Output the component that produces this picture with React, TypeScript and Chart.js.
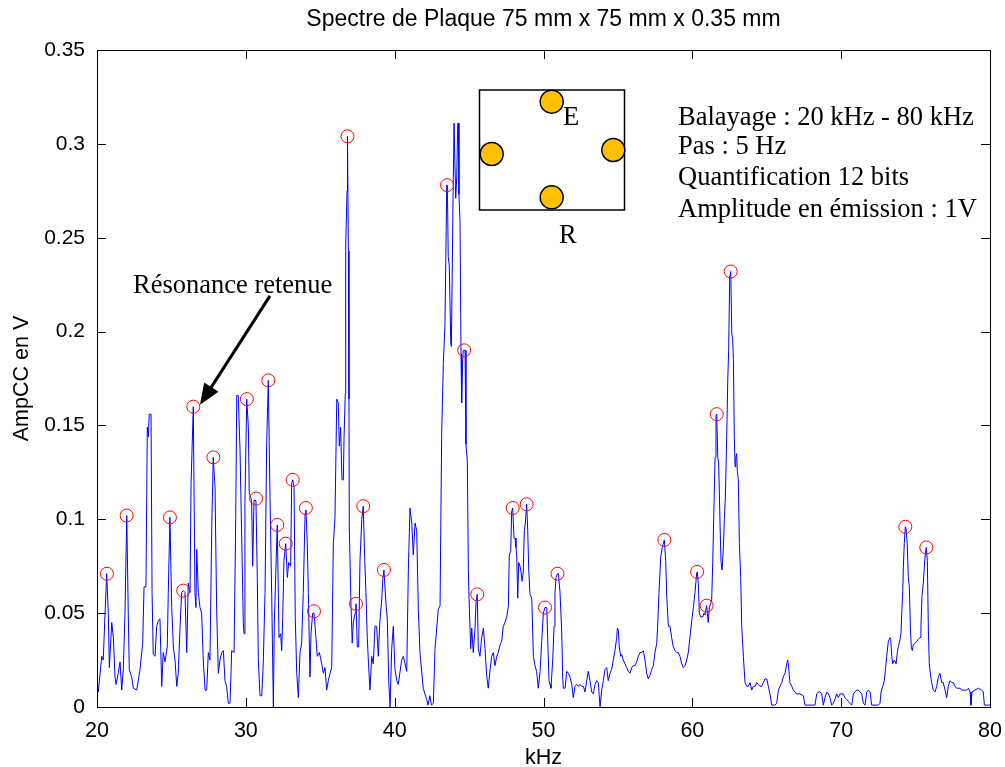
import React, { useEffect, useRef } from 'react';
import { Chart, registerables } from 'chart.js';

Chart.register(...registerables);

const kHz = [
  20.00, 20.09, 20.32, 20.42, 20.54, 20.65, 20.76, 20.83, 20.99, 21.10, 21.21, 21.28, 21.43, 21.55, 21.66, 21.77, 21.88, 22.00, 22.10, 22.17,
  22.33, 22.44, 22.67, 22.89, 23.07, 23.16, 23.29, 23.38, 23.45, 23.51, 23.63, 23.70, 23.78, 23.90, 24.01, 24.12, 24.23, 24.35, 24.45, 24.57,
  24.72, 24.79, 24.90, 25.02, 25.13, 25.24, 25.36, 25.46, 25.58, 25.69, 25.80, 25.91, 26.03, 26.13, 26.25, 26.32, 26.47, 26.58, 26.65, 26.70,
  26.81, 26.92, 27.03, 27.14, 27.26, 27.37, 27.48, 27.59, 27.71, 27.81, 27.93, 28.04, 28.15, 28.26, 28.38, 28.49, 28.60, 28.71, 28.82, 28.94,
  29.05, 29.21, 29.32, 29.39, 29.49, 29.61, 29.83, 29.88, 29.94, 30.06, 30.17, 30.23, 30.39, 30.46, 30.55, 30.68, 30.77, 30.84, 30.95, 31.07,
  31.17, 31.29, 31.40, 31.51, 31.62, 31.74, 31.85, 31.91, 32.01, 32.11, 32.23, 32.34, 32.41, 32.48, 32.56, 32.68, 32.79, 32.88, 33.01, 33.08,
  33.15, 33.24, 33.32, 33.42, 33.53, 33.64, 33.75, 33.86, 33.98, 34.04, 34.13, 34.20, 34.31, 34.38, 34.49, 34.58, 34.71, 34.80, 34.94, 35.10,
  35.21, 35.32, 35.43, 35.54, 35.66, 35.77, 35.88, 35.99, 36.11, 36.21, 36.28, 36.37, 36.46, 36.55, 36.60, 36.68, 36.69, 36.73, 36.80, 36.83,
  36.89, 36.93, 36.95, 37.07, 37.15, 37.22, 37.34, 37.40, 37.49, 37.58, 37.67, 37.79, 37.89, 37.99, 38.07, 38.16, 38.23, 38.34, 38.46, 38.56,
  38.68, 38.79, 38.90, 39.01, 39.13, 39.20, 39.28, 39.40, 39.51, 39.60, 39.69, 39.80, 39.91, 40.02, 40.14, 40.24, 40.47, 40.58, 40.81, 40.92,
  41.03, 41.15, 41.25, 41.37, 41.48, 41.59, 41.70, 41.92, 42.15, 42.24, 42.37, 42.47, 42.60, 42.71, 42.93, 43.05, 43.16, 43.27, 43.38, 43.50,
  43.54, 43.60, 43.67, 43.77, 43.81, 43.94, 43.99, 44.05, 44.10, 44.17, 44.24, 44.28, 44.32, 44.39, 44.46, 44.50, 44.57, 44.61, 44.73, 44.79,
  44.88, 44.95, 45.02, 45.11, 45.18, 45.28, 45.40, 45.47, 45.55, 45.62, 45.73, 45.85, 45.96, 46.07, 46.18, 46.29, 46.41, 46.52, 46.63, 46.74,
  46.86, 46.96, 47.08, 47.19, 47.30, 47.41, 47.53, 47.64, 47.70, 47.80, 47.86, 47.93, 48.02, 48.09, 48.15, 48.20, 48.27, 48.33, 48.42, 48.49,
  48.56, 48.64, 48.71, 48.78, 48.87, 48.94, 49.01, 49.09, 49.21, 49.32, 49.43, 49.54, 49.65, 49.77, 49.88, 49.99, 50.10, 50.22, 50.28, 50.37,
  50.44, 50.50, 50.62, 50.71, 50.77, 50.84, 50.93, 51.00, 51.11, 51.22, 51.29, 51.33, 51.45, 51.56, 51.67, 51.78, 51.90, 52.00, 52.12, 52.23,
  52.34, 52.45, 52.57, 52.68, 52.79, 52.90, 53.01, 53.12, 53.24, 53.35, 53.46, 53.58, 53.68, 53.80, 53.86, 53.91, 54.02, 54.13, 54.25, 54.35,
  54.47, 54.58, 54.69, 54.80, 54.92, 54.96, 55.03, 55.09, 55.19, 55.25, 55.36, 55.48, 55.59, 55.70, 55.81, 55.93, 56.03, 56.15, 56.26, 56.37,
  56.49, 56.60, 56.71, 56.82, 56.93, 57.04, 57.16, 57.27, 57.38, 57.49, 57.61, 57.67, 57.76, 57.88, 57.98, 58.05, 58.12, 58.21, 58.28, 58.39,
  58.50, 58.61, 58.72, 58.84, 58.95, 59.06, 59.17, 59.29, 59.39, 59.51, 59.62, 59.73, 59.84, 59.96, 60.07, 60.18, 60.29, 60.33, 60.40, 60.47,
  60.56, 60.70, 60.78, 60.85, 60.96, 61.07, 61.14, 61.23, 61.30, 61.37, 61.46, 61.53, 61.59, 61.64, 61.71, 61.77, 61.86, 61.93, 62.00, 62.08,
  62.15, 62.22, 62.31, 62.38, 62.44, 62.51, 62.58, 62.65, 62.71, 62.76, 62.82, 62.87, 62.92, 62.98, 63.02, 63.09, 63.16, 63.25, 63.32, 63.43,
  63.54, 63.66, 63.77, 63.88, 63.99, 64.10, 64.21, 64.33, 64.43, 64.55, 64.66, 64.77, 64.88, 65.00, 65.11, 65.22, 65.33, 65.55, 65.67, 65.78,
  65.89, 66.01, 66.11, 66.23, 66.34, 66.41, 66.47, 66.56, 66.68, 66.79, 66.90, 67.01, 67.23, 67.46, 67.57, 68.24, 68.36, 68.46, 68.58, 68.69,
  68.80, 68.91, 69.03, 69.14, 69.25, 69.36, 69.47, 69.58, 69.70, 69.81, 69.92, 70.14, 70.26, 70.37, 70.48, 70.59, 70.71, 70.82, 70.93, 71.04,
  71.15, 71.27, 71.38, 71.49, 71.60, 71.72, 71.83, 71.94, 72.05, 72.50, 72.61, 72.68, 72.79, 72.90, 72.99, 73.06, 73.17, 73.28, 73.33, 73.40,
  73.46, 73.57, 73.69, 73.77, 73.84, 73.95, 74.02, 74.07, 74.14, 74.18, 74.24, 74.31, 74.36, 74.44, 74.51, 74.58, 74.65, 74.71, 74.78, 74.85,
  74.96, 75.08, 75.18, 75.30, 75.36, 75.43, 75.52, 75.59, 75.65, 75.72, 75.79, 75.86, 75.92, 76.02, 76.08, 76.19, 76.31, 76.42, 76.53, 76.64,
  76.75, 76.86, 76.98, 77.09, 77.20, 77.31, 77.43, 77.54, 77.65, 77.76, 77.99, 78.10, 78.44, 78.55, 78.66, 78.72, 78.79, 78.99, 79.22, 79.44,
  79.55, 79.62, 80.00,
];

const amp = [
  0.014, 0.008, 0.027, 0.025, 0.050, 0.071, 0.050, 0.021, 0.045, 0.037, 0.016, 0.012, 0.018, 0.024, 0.009, 0.020, 0.050, 0.102, 0.050, 0.020,
  0.016, 0.010, 0.009, 0.020, 0.034, 0.064, 0.064, 0.149, 0.144, 0.156, 0.156, 0.061, 0.028, 0.027, 0.043, 0.046, 0.047, 0.011, 0.029, 0.024,
  0.032, 0.061, 0.101, 0.053, 0.032, 0.025, 0.011, 0.018, 0.043, 0.061, 0.062, 0.061, 0.029, 0.066, 0.061, 0.119, 0.160, 0.061, 0.053, 0.084,
  0.061, 0.053, 0.050, 0.025, 0.009, 0.009, 0.029, 0.025, 0.096, 0.133, 0.117, 0.052, 0.018, 0.025, 0.029, 0.030, 0.014, 0.011, 0.002, 0.002,
  0.030, 0.029, 0.100, 0.166, 0.166, 0.137, 0.045, 0.039, 0.109, 0.164, 0.149, 0.114, 0.110, 0.075, 0.110, 0.110, 0.069, 0.025, 0.006, 0.006,
  0.023, 0.061, 0.140, 0.174, 0.114, 0.059, 0.000, 0.043, 0.071, 0.097, 0.037, 0.039, 0.030, 0.048, 0.078, 0.087, 0.069, 0.077, 0.075, 0.119,
  0.121, 0.117, 0.048, 0.018, 0.005, 0.029, 0.034, 0.061, 0.103, 0.105, 0.087, 0.061, 0.016, 0.039, 0.050, 0.050, 0.037, 0.027, 0.029, 0.023,
  0.018, 0.021, 0.009, 0.014, 0.018, 0.021, 0.087, 0.101, 0.164, 0.162, 0.139, 0.149, 0.121, 0.121, 0.144, 0.167, 0.181, 0.245, 0.275, 0.304,
  0.243, 0.164, 0.096, 0.053, 0.034, 0.045, 0.050, 0.055, 0.032, 0.032, 0.078, 0.100, 0.107, 0.078, 0.061, 0.037, 0.025, 0.009, 0.027, 0.023,
  0.043, 0.043, 0.027, 0.046, 0.057, 0.068, 0.073, 0.057, 0.046, 0.014, 0.000, 0.031, 0.043, 0.020, 0.014, 0.012, 0.025, 0.027, 0.019, 0.073,
  0.106, 0.098, 0.081, 0.098, 0.094, 0.052, 0.029, 0.010, 0.004, 0.001, 0.006, 0.001, 0.002, 0.031, 0.052, 0.054, 0.146, 0.183, 0.204, 0.278,
  0.278, 0.240, 0.235, 0.194, 0.192, 0.282, 0.311, 0.311, 0.271, 0.282, 0.311, 0.311, 0.273, 0.259, 0.188, 0.162, 0.185, 0.190, 0.190, 0.140,
  0.131, 0.073, 0.052, 0.031, 0.042, 0.029, 0.042, 0.056, 0.060, 0.031, 0.027, 0.037, 0.042, 0.031, 0.017, 0.010, 0.020, 0.027, 0.029, 0.022,
  0.027, 0.029, 0.033, 0.035, 0.043, 0.045, 0.048, 0.054, 0.081, 0.083, 0.104, 0.106, 0.090, 0.090, 0.085, 0.081, 0.058, 0.077, 0.075, 0.072,
  0.067, 0.072, 0.094, 0.098, 0.108, 0.094, 0.073, 0.060, 0.058, 0.027, 0.022, 0.019, 0.010, 0.019, 0.035, 0.050, 0.053, 0.053, 0.037, 0.014,
  0.012, 0.010, 0.025, 0.043, 0.061, 0.069, 0.071, 0.071, 0.061, 0.041, 0.016, 0.010, 0.010, 0.019, 0.018, 0.016, 0.012, 0.005, 0.011, 0.012,
  0.011, 0.012, 0.011, 0.011, 0.008, 0.014, 0.019, 0.014, 0.008, 0.007, 0.012, 0.014, 0.013, 0.000, 0.000, 0.009, 0.014, 0.020, 0.021, 0.014,
  0.018, 0.020, 0.025, 0.030, 0.037, 0.042, 0.041, 0.032, 0.027, 0.028, 0.025, 0.023, 0.021, 0.019, 0.018, 0.021, 0.022, 0.022, 0.024, 0.027,
  0.029, 0.029, 0.030, 0.025, 0.018, 0.015, 0.017, 0.020, 0.022, 0.029, 0.034, 0.043, 0.061, 0.080, 0.085, 0.087, 0.089, 0.078, 0.059, 0.043,
  0.043, 0.037, 0.032, 0.030, 0.029, 0.029, 0.027, 0.023, 0.021, 0.022, 0.025, 0.029, 0.037, 0.046, 0.053, 0.061, 0.071, 0.072, 0.066, 0.050,
  0.048, 0.048, 0.050, 0.049, 0.054, 0.045, 0.053, 0.055, 0.057, 0.077, 0.109, 0.133, 0.155, 0.156, 0.133, 0.130, 0.098, 0.077, 0.073, 0.084,
  0.100, 0.112, 0.144, 0.174, 0.190, 0.229, 0.232, 0.199, 0.196, 0.185, 0.144, 0.128, 0.133, 0.135, 0.126, 0.121, 0.087, 0.069, 0.043, 0.027,
  0.013, 0.011, 0.011, 0.013, 0.009, 0.011, 0.011, 0.013, 0.012, 0.011, 0.011, 0.013, 0.015, 0.015, 0.011, 0.007, 0.001, 0.001, 0.002, 0.009,
  0.011, 0.013, 0.016, 0.018, 0.023, 0.025, 0.021, 0.013, 0.011, 0.009, 0.008, 0.007, 0.007, 0.006, 0.001, 0.001, 0.007, 0.008, 0.008, 0.007,
  0.001, 0.005, 0.008, 0.007, 0.005, 0.001, 0.002, 0.004, 0.007, 0.005, 0.007, 0.007, 0.005, 0.004, 0.003, 0.002, 0.001, 0.007, 0.008, 0.009,
  0.009, 0.008, 0.007, 0.002, 0.001, 0.008, 0.009, 0.008, 0.001, 0.001, 0.002, 0.008, 0.011, 0.014, 0.021, 0.027, 0.035, 0.037, 0.036, 0.027,
  0.023, 0.025, 0.023, 0.029, 0.032, 0.036, 0.039, 0.050, 0.062, 0.075, 0.087, 0.096, 0.095, 0.087, 0.069, 0.064, 0.043, 0.032, 0.030, 0.033,
  0.034, 0.035, 0.036, 0.037, 0.043, 0.059, 0.066, 0.075, 0.081, 0.085, 0.078, 0.041, 0.023, 0.016, 0.013, 0.009, 0.008, 0.011, 0.016, 0.018,
  0.013, 0.013, 0.009, 0.005, 0.011, 0.014, 0.013, 0.013, 0.011, 0.010, 0.010, 0.009, 0.009, 0.010, 0.008, 0.001, 0.008, 0.009, 0.010, 0.009,
  0.008, 0.001, 0.001,
];

const peakKHz = [
  20.67, 21.99, 24.90, 25.79, 26.47, 27.82, 30.07, 30.69, 31.51, 32.11, 32.68, 33.15, 34.03, 34.58, 36.83, 37.40,
  37.89, 39.28, 43.52, 44.67, 45.55, 47.93, 48.87, 50.10, 50.94, 58.12, 60.32, 60.96, 61.64, 62.58, 74.31, 75.72,
];
const peakAmp = [
  0.071, 0.102, 0.101, 0.062, 0.160, 0.133, 0.164, 0.111, 0.174, 0.097, 0.087, 0.121, 0.106, 0.051, 0.304, 0.055,
  0.107, 0.073, 0.278, 0.190, 0.060, 0.106, 0.108, 0.053, 0.071, 0.089, 0.072, 0.054, 0.156, 0.232, 0.096, 0.085,
];

const xTicks = [20, 30, 40, 50, 60, 70, 80];
const xTickLabels = ['20', '30', '40', '50', '60', '70', '80'];
const yTicks = [0, 0.05, 0.1, 0.15, 0.2, 0.25, 0.3, 0.35];
const yTickLabels = ['0', '0.05', '0.1', '0.15', '0.2', '0.25', '0.3', '0.35'];

const titleText = 'Spectre de Plaque 75 mm x 75 mm x 0.35 mm';
const xTitle = 'kHz';
const yTitle = 'AmpCC en V';
const infoLines = ['Balayage : 20 kHz - 80 kHz', 'Pas : 5 Hz', 'Quantification 12 bits', 'Amplitude en émission : 1V'];
const arrowText = 'Résonance retenue';

const SANS = '"Liberation Sans", Arial, sans-serif';
const SERIF = '"Liberation Serif", "Times New Roman", serif';

const labelFor = (ticks: number[], labels: string[], v: number) => {
  const i = ticks.findIndex((t) => Math.abs(t - v) < 1e-9);
  return i >= 0 ? labels[i] : '';
};

const decor = {
  id: 'decor',
  afterDraw(chart: any) {
    const { ctx, chartArea: a, scales } = chart;
    const xs = scales.x;
    const ys = scales.y;
    ctx.save();

    // frame
    ctx.strokeStyle = '#000';
    ctx.lineWidth = 1;
    ctx.strokeRect(a.left + 0.5, a.top + 0.5, a.right - a.left, a.bottom - a.top);

    // inward ticks on all four sides
    ctx.beginPath();
    xTicks.forEach((v) => {
      const px = Math.round(xs.getPixelForValue(v)) + 0.5;
      ctx.moveTo(px, a.bottom);
      ctx.lineTo(px, a.bottom - 9);
      ctx.moveTo(px, a.top);
      ctx.lineTo(px, a.top + 9);
    });
    yTicks.forEach((v) => {
      const py = Math.round(ys.getPixelForValue(v)) + 0.5;
      ctx.moveTo(a.left, py);
      ctx.lineTo(a.left + 9, py);
      ctx.moveTo(a.right, py);
      ctx.lineTo(a.right - 9, py);
    });
    ctx.stroke();

    // title and axis titles
    ctx.fillStyle = '#000';
    ctx.textAlign = 'center';
    ctx.textBaseline = 'alphabetic';
    ctx.font = `23px ${SANS}`;
    ctx.fillText(titleText, (a.left + a.right) / 2, 26);
    ctx.font = `21.5px ${SANS}`;
    ctx.fillText(xTitle, (a.left + a.right) / 2, 764);
    ctx.save();
    ctx.translate(28, (a.top + a.bottom) / 2);
    ctx.rotate(-Math.PI / 2);
    ctx.fillText(yTitle, 0, 0);
    ctx.restore();

    // info text
    ctx.textAlign = 'left';
    ctx.font = `26.5px ${SERIF}`;
    const baselines = [125, 153.5, 185, 217];
    infoLines.forEach((t, i) => ctx.fillText(t, 678, baselines[i]));

    // inset sketch of the plate
    ctx.lineWidth = 1.5;
    ctx.strokeStyle = '#000';
    ctx.strokeRect(479.5, 90, 145, 120);
    const dots = [
      [551.7, 101.7],
      [491.7, 154],
      [613.3, 150],
      [551.7, 197.3],
    ];
    dots.forEach(([cx, cy]) => {
      ctx.beginPath();
      ctx.arc(cx, cy, 11.5, 0, Math.PI * 2);
      ctx.fillStyle = '#FFC000';
      ctx.fill();
      ctx.stroke();
    });
    ctx.fillStyle = '#000';
    ctx.fillText('E', 563, 125);
    ctx.fillText('R', 559, 243);

    // arrow annotation
    ctx.fillText(arrowText, 133, 293);
    const tx = xs.getPixelForValue(31.62);
    const ty = ys.getPixelForValue(0.219);
    const hx = xs.getPixelForValue(26.92);
    const hy = ys.getPixelForValue(0.161);
    const ang = Math.atan2(hy - ty, hx - tx);
    const L = 21;
    const W = 8.5;
    const cos = Math.cos(ang);
    const sin = Math.sin(ang);
    ctx.lineWidth = 3;
    ctx.beginPath();
    ctx.moveTo(tx, ty);
    ctx.lineTo(hx - L * 0.8 * cos, hy - L * 0.8 * sin);
    ctx.stroke();
    ctx.beginPath();
    ctx.moveTo(hx, hy);
    ctx.lineTo(hx - L * cos + W * sin, hy - L * sin - W * cos);
    ctx.lineTo(hx - L * cos - W * sin, hy - L * sin + W * cos);
    ctx.closePath();
    ctx.fill();

    ctx.restore();
  },
};

export default function App() {
  const ref = useRef<HTMLCanvasElement>(null);

  useEffect(() => {
    const canvas = ref.current;
    if (!canvas) return;
    const chart = new Chart(canvas, {
      type: 'scatter',
      data: {
        datasets: [
          {
            label: 'pics',
            data: peakKHz.map((x, i) => ({ x, y: peakAmp[i] })),
            showLine: false,
            pointRadius: 6.5,
            pointHoverRadius: 6.5,
            pointBorderColor: '#FF0000',
            pointBackgroundColor: 'rgba(0,0,0,0)',
            pointBorderWidth: 1,
            order: 0,
            clip: false,
          } as any,
          {
            label: 'spectre',
            data: kHz.map((x, i) => ({ x, y: amp[i] })),
            showLine: true,
            borderColor: '#0000FF',
            borderWidth: 1,
            pointRadius: 0,
            pointHoverRadius: 0,
            tension: 0,
            order: 1,
          } as any,
        ],
      },
      options: {
        responsive: false,
        animation: false,
        devicePixelRatio: 1,
        events: [],
        layout: { padding: { top: 50, right: 15, bottom: 0, left: 0 } },
        plugins: {
          legend: { display: false },
          tooltip: { enabled: false },
          title: { display: false },
        },
        scales: {
          x: {
            type: 'linear',
            min: 20,
            max: 80,
            grid: { display: false },
            border: { display: false },
            afterBuildTicks: (s: any) => {
              s.ticks = xTicks.map((v) => ({ value: v }));
            },
            afterFit: (s: any) => {
              s.height = 60;
              s.paddingLeft = 0;
              s.paddingRight = 0;
            },
            ticks: {
              font: { family: SANS, size: 21.5 },
              color: '#000',
              padding: 3,
              maxRotation: 0,
              autoSkip: false,
              callback: (v: any) => labelFor(xTicks, xTickLabels, Number(v)),
            },
          },
          y: {
            type: 'linear',
            min: 0,
            max: 0.35,
            grid: { display: false },
            border: { display: false },
            afterBuildTicks: (s: any) => {
              s.ticks = yTicks.map((v) => ({ value: v }));
            },
            afterFit: (s: any) => {
              s.width = 97;
              s.paddingTop = 0;
              s.paddingBottom = 0;
            },
            ticks: {
              font: { family: SANS, size: 21 },
              color: '#000',
              padding: 4,
              autoSkip: false,
              callback: (v: any) => labelFor(yTicks, yTickLabels, Number(v)),
            },
          },
        },
      } as any,
      plugins: [decor],
    });
    return () => chart.destroy();
  }, []);

  return (
    <div style={{ position: 'absolute', left: 0, top: 0, width: 1005, height: 767, background: '#fff' }}>
      <canvas ref={ref} width={1005} height={767} style={{ display: 'block' }} />
    </div>
  );
}
